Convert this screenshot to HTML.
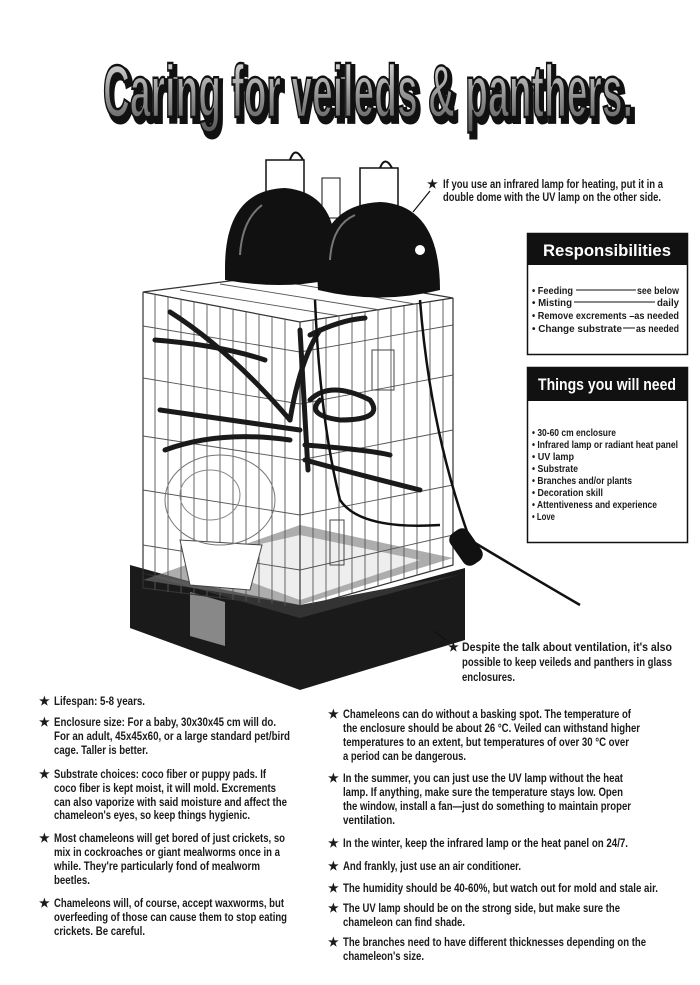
<!DOCTYPE html>
<html><head><meta charset="utf-8"><style>
html,body{margin:0;padding:0;background:#fff;}
svg{display:block;}
text{font-family:"Liberation Sans",sans-serif;}
.t{font-size:12px;font-weight:bold;fill:#1a1a1a;}
.b{font-size:10.5px;font-weight:bold;fill:#1a1a1a;}
</style></head><body>
<svg width="700" height="985" viewBox="0 0 700 985" xmlns="http://www.w3.org/2000/svg">
<defs>
<linearGradient id="g" x1="0" y1="0" x2="0" y2="1">
<stop offset="0" stop-color="#e8e8e8"/><stop offset="0.6" stop-color="#8a8a8a"/><stop offset="1" stop-color="#555"/>
</linearGradient>
</defs>
<rect width="700" height="985" fill="#fff"/>
<!-- Title -->
<text x="106" y="121" font-size="74" font-weight="bold" textLength="530" lengthAdjust="spacingAndGlyphs" fill="#111" stroke="#111" stroke-width="6">Caring for veileds &amp; panthers.</text>
<text x="103" y="117" font-size="74" font-weight="bold" textLength="530" lengthAdjust="spacingAndGlyphs" fill="url(#g)" stroke="#111" stroke-width="2.5">Caring for veileds &amp; panthers.</text>

<!-- Cage base -->
<path d="M130 565 L300 612 L465 568 L465 640 L300 690 L130 628 Z" fill="#1a1a1a"/>
<path d="M138 572 L300 618 L458 575 L300 605 Z" fill="#333"/>
<path d="M190 592 L225 602 L225 646 L190 636 Z" fill="#888"/>
<!-- cage floor -->
<path d="M143 580 L300 605 L453 558 L300 525 Z" fill="#777" opacity="0.6"/>
<path d="M190 560 L300 600 L420 560 L300 535 Z" fill="#eee"/>
<!-- cage frame -->
<g stroke="#333" stroke-width="1.2" fill="none">
<path d="M143 292 L300 322 L453 298 L300 272 Z"/>
<path d="M143 292 L143 588 L300 608 L300 322"/>
<path d="M300 608 L453 565 L453 298"/>
</g>
<g stroke="#555" stroke-width="0.9">
<line x1="155" y1="294" x2="155" y2="590"/><line x1="168" y1="297" x2="168" y2="592"/><line x1="181" y1="299" x2="181" y2="593"/><line x1="194" y1="302" x2="194" y2="595"/><line x1="207" y1="304" x2="207" y2="596"/><line x1="220" y1="307" x2="220" y2="598"/><line x1="233" y1="309" x2="233" y2="600"/><line x1="246" y1="312" x2="246" y2="601"/><line x1="259" y1="314" x2="259" y2="603"/><line x1="272" y1="317" x2="272" y2="604"/><line x1="285" y1="319" x2="285" y2="606"/>
<line x1="313" y1="320" x2="313" y2="604"/><line x1="326" y1="318" x2="326" y2="600"/><line x1="339" y1="316" x2="339" y2="597"/><line x1="352" y1="314" x2="352" y2="593"/><line x1="365" y1="312" x2="365" y2="590"/><line x1="378" y1="310" x2="378" y2="586"/><line x1="391" y1="308" x2="391" y2="582"/><line x1="404" y1="306" x2="404" y2="579"/><line x1="417" y1="304" x2="417" y2="575"/><line x1="430" y1="302" x2="430" y2="572"/><line x1="443" y1="300" x2="443" y2="568"/>
<line x1="143" y1="326" x2="300" y2="352"/><line x1="143" y1="378" x2="300" y2="404"/><line x1="143" y1="436" x2="300" y2="460"/><line x1="143" y1="490" x2="300" y2="515"/><line x1="143" y1="545" x2="300" y2="570"/>
<line x1="300" y1="352" x2="453" y2="325"/><line x1="300" y1="404" x2="453" y2="375"/><line x1="300" y1="460" x2="453" y2="430"/><line x1="300" y1="515" x2="453" y2="485"/><line x1="300" y1="570" x2="453" y2="535"/>
<line x1="180" y1="290" x2="340" y2="316"/><line x1="220" y1="284" x2="380" y2="310"/><line x1="260" y1="278" x2="415" y2="304"/>
</g>
<!-- plant -->
<path d="M180 540 L190 585 L250 590 L262 545 Z" fill="#fff" stroke="#444"/>
<ellipse cx="220" cy="500" rx="55" ry="45" fill="none" stroke="#777"/>
<ellipse cx="210" cy="495" rx="30" ry="25" fill="none" stroke="#888"/>
<!-- branches -->
<g stroke="#1a1a1a" stroke-width="5" fill="none" stroke-linecap="round">
<path d="M170 312 Q230 350 290 420"/><path d="M155 340 Q220 345 265 360"/>
<path d="M290 420 Q300 360 320 330"/><path d="M310 335 Q340 320 365 318"/>
<path d="M160 410 Q230 420 300 430"/><path d="M165 450 Q220 430 290 440"/>
<path d="M310 400 Q330 380 370 400 Q385 420 340 420 Q305 415 320 400"/>
<path d="M305 445 Q370 450 390 455"/><path d="M305 460 Q360 475 420 490"/>
<path d="M300 330 L308 470"/>
</g>
<!-- cables -->
<g stroke="#111" stroke-width="2.5" fill="none">
<path d="M315 300 Q320 420 340 500 Q360 530 440 525"/>
<path d="M420 300 Q430 430 470 540"/>
<path d="M470 540 Q520 570 580 605"/>
</g>
<rect x="455" y="528" width="22" height="38" rx="8" fill="#111" transform="rotate(-35 466 547)"/>
<!-- window/door -->
<rect x="372" y="350" width="22" height="40" fill="none" stroke="#444"/>
<rect x="330" y="520" width="14" height="45" fill="none" stroke="#444"/>
<!-- domes -->
<rect x="266" y="160" width="38" height="38" fill="#fff" stroke="#111" stroke-width="1.5"/>
<path d="M290 160 Q295 145 303 160" fill="none" stroke="#111" stroke-width="2"/>
<rect x="322" y="178" width="18" height="40" fill="#fff" stroke="#111"/>
<path d="M225 268 Q225 190 285 188 Q330 192 335 240 L330 280 Q280 290 225 280 Z" fill="#111"/>
<rect x="360" y="168" width="38" height="38" fill="#fff" stroke="#111" stroke-width="1.5"/>
<path d="M380 168 Q385 155 392 168" fill="none" stroke="#111" stroke-width="2"/>
<path d="M318 290 Q312 205 380 202 Q440 205 440 290 Q380 305 318 290 Z" fill="#111"/>
<path d="M330 260 Q332 225 355 215" stroke="#777" stroke-width="2" fill="none"/>
<path d="M240 255 Q242 220 262 205" stroke="#777" stroke-width="2" fill="none"/>
<circle cx="420" cy="250" r="5" fill="#fff"/>

<!-- callouts -->
<line x1="430" y1="191" x2="413" y2="212" stroke="#111" stroke-width="1.2"/>
<text x="427" y="188" class="t">★</text>
<text x="443" y="188" class="t" textLength="220" lengthAdjust="spacingAndGlyphs">If you use an infrared lamp for heating, put it in a</text>
<text x="443" y="201" class="t" textLength="218" lengthAdjust="spacingAndGlyphs">double dome with the UV lamp on the other side.</text>

<line x1="434" y1="631" x2="446" y2="640" stroke="#111" stroke-width="1.2"/>
<text x="448" y="651" class="t">★</text>
<text x="462" y="651" class="t" textLength="210" lengthAdjust="spacingAndGlyphs">Despite the talk about ventilation, it's also</text>
<text x="462" y="666" class="t" textLength="210" lengthAdjust="spacingAndGlyphs">possible to keep veileds and panthers in glass</text>
<text x="462" y="681" class="t" textLength="53" lengthAdjust="spacingAndGlyphs">enclosures.</text>

<!-- Responsibilities box -->
<rect x="527.5" y="233.5" width="160" height="121" fill="#fff" stroke="#111" stroke-width="1.5"/>
<rect x="527" y="233" width="161" height="32" fill="#111"/>
<text x="607" y="256" text-anchor="middle" font-size="17" font-weight="bold" fill="#fff" textLength="128" lengthAdjust="spacingAndGlyphs">Responsibilities</text>
<text x="532" y="294" class="b" textLength="41" lengthAdjust="spacingAndGlyphs">• Feeding</text><line x1="576" y1="290" x2="636" y2="290" stroke="#111"/><text x="637" y="294" class="b" textLength="42" lengthAdjust="spacingAndGlyphs">see below</text>
<text x="532" y="306" class="b" textLength="40" lengthAdjust="spacingAndGlyphs">• Misting</text><line x1="574" y1="302" x2="655" y2="302" stroke="#111"/><text x="657" y="306" class="b" textLength="22" lengthAdjust="spacingAndGlyphs">daily</text>
<text x="532" y="319" class="b" textLength="147" lengthAdjust="spacingAndGlyphs">• Remove excrements –as needed</text>
<text x="532" y="332" class="b" textLength="90" lengthAdjust="spacingAndGlyphs">• Change substrate</text><line x1="623" y1="328" x2="635" y2="328" stroke="#111"/><text x="636" y="332" class="b" textLength="43" lengthAdjust="spacingAndGlyphs">as needed</text>

<!-- Things box -->
<rect x="527.5" y="367.5" width="160" height="175" fill="#fff" stroke="#111" stroke-width="1.5"/>
<rect x="527" y="367" width="161" height="34" fill="#111"/>
<text x="607" y="390" text-anchor="middle" font-size="17" font-weight="bold" fill="#fff" textLength="138" lengthAdjust="spacingAndGlyphs">Things you will need</text>
<text x="532" y="436" class="b" textLength="84" lengthAdjust="spacingAndGlyphs">• 30-60 cm enclosure</text>
<text x="532" y="448" class="b" textLength="146" lengthAdjust="spacingAndGlyphs">• Infrared lamp or radiant heat panel</text>
<text x="532" y="460" class="b" textLength="42" lengthAdjust="spacingAndGlyphs">• UV lamp</text>
<text x="532" y="472" class="b" textLength="46" lengthAdjust="spacingAndGlyphs">• Substrate</text>
<text x="532" y="484" class="b" textLength="100" lengthAdjust="spacingAndGlyphs">• Branches and/or plants</text>
<text x="532" y="496" class="b" textLength="71" lengthAdjust="spacingAndGlyphs">• Decoration skill</text>
<text x="532" y="508" class="b" textLength="125" lengthAdjust="spacingAndGlyphs">• Attentiveness and experience</text>
<text x="532" y="520" class="b" textLength="23" lengthAdjust="spacingAndGlyphs">• Love</text>

<!-- Left column -->
<g class="t">
<text x="39" y="705">★</text><text x="54" y="705" textLength="91" lengthAdjust="spacingAndGlyphs">Lifespan: 5-8 years.</text>
<text x="39" y="726">★</text><text x="54" y="726" textLength="222" lengthAdjust="spacingAndGlyphs">Enclosure size: For a baby, 30x30x45 cm will do.</text>
<text x="54" y="740" textLength="236" lengthAdjust="spacingAndGlyphs">For an adult, 45x45x60, or a large standard pet/bird</text>
<text x="54" y="754" textLength="94" lengthAdjust="spacingAndGlyphs">cage. Taller is better.</text>
<text x="39" y="778">★</text><text x="54" y="778" textLength="212" lengthAdjust="spacingAndGlyphs">Substrate choices: coco fiber or puppy pads. If</text>
<text x="54" y="792" textLength="222" lengthAdjust="spacingAndGlyphs">coco fiber is kept moist, it will mold. Excrements</text>
<text x="54" y="806" textLength="233" lengthAdjust="spacingAndGlyphs">can also vaporize with said moisture and affect the</text>
<text x="54" y="819" textLength="196" lengthAdjust="spacingAndGlyphs">chameleon's eyes, so keep things hygienic.</text>
<text x="39" y="842">★</text><text x="54" y="842" textLength="231" lengthAdjust="spacingAndGlyphs">Most chameleons will get bored of just crickets, so</text>
<text x="54" y="856" textLength="226" lengthAdjust="spacingAndGlyphs">mix in cockroaches or giant mealworms once in a</text>
<text x="54" y="870" textLength="206" lengthAdjust="spacingAndGlyphs">while. They're particularly fond of mealworm</text>
<text x="54" y="884" textLength="36" lengthAdjust="spacingAndGlyphs">beetles.</text>
<text x="39" y="907">★</text><text x="54" y="907" textLength="230" lengthAdjust="spacingAndGlyphs">Chameleons will, of course, accept waxworms, but</text>
<text x="54" y="921" textLength="233" lengthAdjust="spacingAndGlyphs">overfeeding of those can cause them to stop eating</text>
<text x="54" y="935" textLength="91" lengthAdjust="spacingAndGlyphs">crickets. Be careful.</text>
</g>
<!-- Right column -->
<g class="t">
<text x="328" y="718">★</text><text x="343" y="718" textLength="288" lengthAdjust="spacingAndGlyphs">Chameleons can do without a basking spot. The temperature of</text>
<text x="343" y="732" textLength="297" lengthAdjust="spacingAndGlyphs">the enclosure should be about 26 °C. Veiled can withstand higher</text>
<text x="343" y="746" textLength="286" lengthAdjust="spacingAndGlyphs">temperatures to an extent, but temperatures of over 30 °C over</text>
<text x="343" y="760" textLength="123" lengthAdjust="spacingAndGlyphs">a period can be dangerous.</text>
<text x="328" y="782">★</text><text x="343" y="782" textLength="280" lengthAdjust="spacingAndGlyphs">In the summer, you can just use the UV lamp without the heat</text>
<text x="343" y="796" textLength="280" lengthAdjust="spacingAndGlyphs">lamp. If anything, make sure the temperature stays low. Open</text>
<text x="343" y="810" textLength="288" lengthAdjust="spacingAndGlyphs">the window, install a fan—just do something to maintain proper</text>
<text x="343" y="824" textLength="52" lengthAdjust="spacingAndGlyphs">ventilation.</text>
<text x="328" y="847">★</text><text x="343" y="847" textLength="285" lengthAdjust="spacingAndGlyphs">In the winter, keep the infrared lamp or the heat panel on 24/7.</text>
<text x="328" y="870">★</text><text x="343" y="870" textLength="178" lengthAdjust="spacingAndGlyphs">And frankly, just use an air conditioner.</text>
<text x="328" y="892">★</text><text x="343" y="892" textLength="315" lengthAdjust="spacingAndGlyphs">The humidity should be 40-60%, but watch out for mold and stale air.</text>
<text x="328" y="912">★</text><text x="343" y="912" textLength="277" lengthAdjust="spacingAndGlyphs">The UV lamp should be on the strong side, but make sure the</text>
<text x="343" y="926" textLength="122" lengthAdjust="spacingAndGlyphs">chameleon can find shade.</text>
<text x="328" y="946">★</text><text x="343" y="946" textLength="303" lengthAdjust="spacingAndGlyphs">The branches need to have different thicknesses depending on the</text>
<text x="343" y="960" textLength="81" lengthAdjust="spacingAndGlyphs">chameleon's size.</text>
</g>
</svg>
</body></html>
